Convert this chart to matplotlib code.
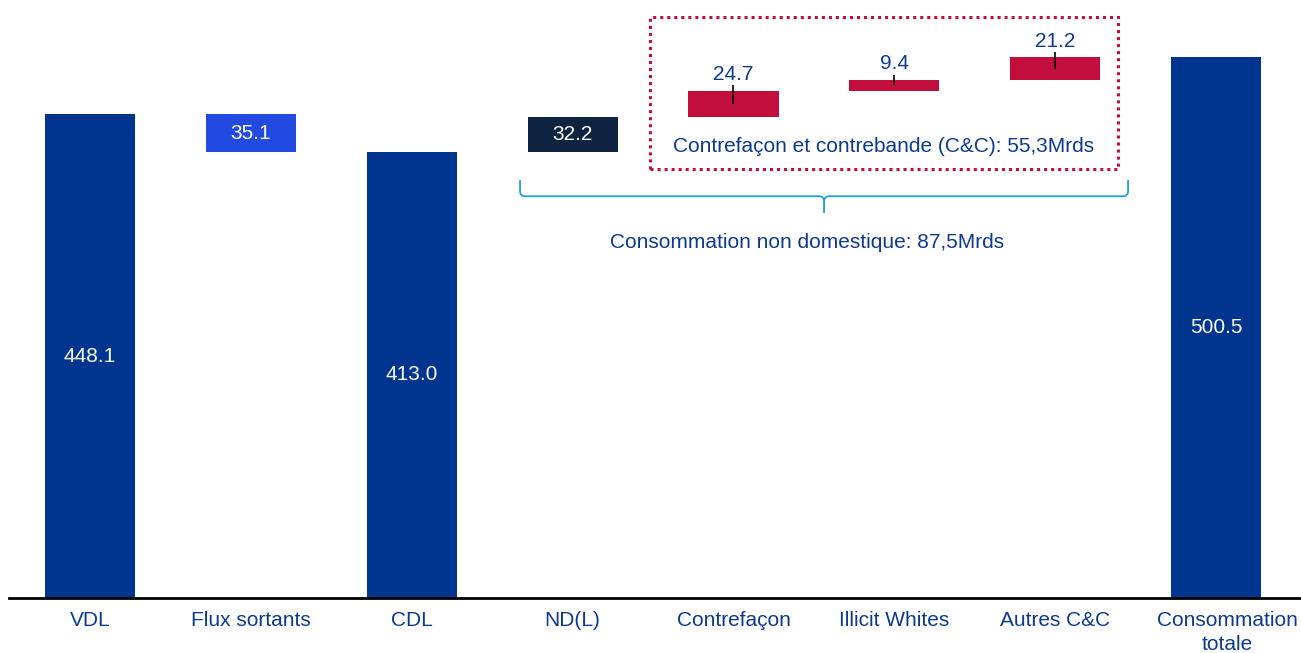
import numpy as np
import matplotlib.pyplot as plt
import matplotlib.transforms as mtransforms
from matplotlib.patches import Rectangle
from matplotlib.path import Path
from matplotlib.patches import PathPatch

plt.rcParams['font.family'] = ['Liberation Sans', 'DejaVu Sans']

categories = ['VDL', 'Flux sortants', 'CDL', 'ND(L)', 'Contrefaçon',
              'Illicit Whites', 'Autres C&C', 'Consommation\ntotale']
values = [448.1, 35.1, 413.0, 32.2, 24.7, 9.4, 21.2, 500.5]
# 'total' bars start at 0, 'down' bars hang from previous level, 'up' stack on it
kinds = ['total', 'down', 'total', 'up', 'up', 'up', 'up', 'total']

c_main = '#00358F'
c_out = '#2249E0'
c_nd = '#0E2340'
c_red = '#C20E3D'
c_text = '#0D3A8E'
c_brace = '#1E9FE0'

colors = [c_main, c_out, c_main, c_nd, c_red, c_red, c_red, c_main]
fs = 15

bottoms, level = [], 0.0
for v, k in zip(values, kinds):
    if k == 'total':
        bottoms.append(0.0)
        level = v
    elif k == 'down':
        level -= v
        bottoms.append(level)
    else:
        bottoms.append(level)
        level += v
bottoms = np.array(bottoms)
vals = np.array(values)
x = np.arange(len(categories))

fig = plt.figure(figsize=(13.01, 6.53), dpi=100)
ax = fig.add_axes([9 / 1301, 55 / 653, 1292 / 1301, 598 / 653])
ax.bar(x, vals, bottom=bottoms, width=0.56, color=colors, zorder=2)
ax.set_xlim(-0.504, 7.528)
ax.set_ylim(0, 553.7)

# value labels
for i, (v, b, k) in enumerate(zip(vals, bottoms, kinds)):
    if colors[i] == c_red:
        top = b + v
        ax.vlines(i, b + v / 2, top + 5, color='black', lw=1.2, zorder=3)
        ax.annotate(f'{v:.1f}', (i, top), xytext=(0, 5), textcoords='offset points',
                    ha='center', va='bottom', color=c_text, fontsize=fs)
    else:
        ax.text(i, b + v / 2, f'{v:.1f}', ha='center', va='center',
                color='white', fontsize=fs)

# C&C dotted box
ax.add_patch(Rectangle((3.481, 397.2), 2.91, 140.8, fill=False,
                       edgecolor=c_red, lw=2.2, ls=(0, (1, 1.3)), zorder=1))
ax.text(4.936, 417.6, 'Contrefaçon et contrebande (C&C): 55,3Mrds',
        ha='center', va='center', color=c_text, fontsize=fs)

# brace under ND + C&C
xl, xr, xm = 2.673, 6.453, 4.563
yt, yh, yb = 387.0, 372.0, 356.5
dx, dy = 0.03, 5.0
verts = [(xl, yt), (xl, yh + dy), (xl, yh), (xl + dx, yh),
         (xm - dx, yh), (xm, yh), (xm, yh - dy), (xm, yb)]
codes = [Path.MOVETO, Path.LINETO, Path.CURVE3, Path.CURVE3,
         Path.LINETO, Path.CURVE3, Path.CURVE3, Path.LINETO]
ax.add_patch(PathPatch(Path(verts, codes), fill=False, edgecolor=c_brace, lw=1.3))
verts = [(xr, yt), (xr, yh + dy), (xr, yh), (xr - dx, yh),
         (xm + dx, yh), (xm, yh), (xm, yh - dy)]
codes = [Path.MOVETO, Path.LINETO, Path.CURVE3, Path.CURVE3,
         Path.LINETO, Path.CURVE3, Path.CURVE3]
ax.add_patch(PathPatch(Path(verts, codes), fill=False, edgecolor=c_brace, lw=1.3))
ax.text(4.458, 329.6, 'Consommation non domestique: 87,5Mrds',
        ha='center', va='center', color=c_text, fontsize=fs)

for s in ['top', 'right', 'left']:
    ax.spines[s].set_visible(False)
ax.spines['bottom'].set_linewidth(2)
ax.spines['bottom'].set_color('black')
ax.set_yticks([])
ax.set_xticks(x)
ax.set_xticklabels(categories, color=c_text, fontsize=fs, linespacing=1.4)
ax.tick_params(axis='x', length=0, pad=9)
# last label sits a little to the right, against the edge
last = ax.get_xticklabels()[-1]
last.set_transform(last.get_transform() +
                   mtransforms.ScaledTranslation(0.11, 0, fig.dpi_scale_trans))

fig.savefig('out.png', dpi=100)
